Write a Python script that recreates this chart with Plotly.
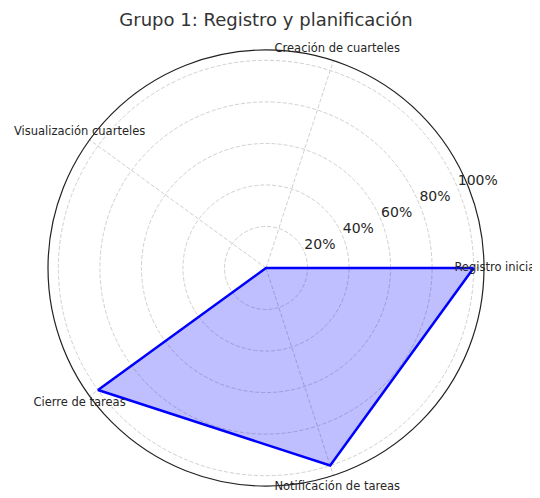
import plotly.graph_objects as go

categories = ["Registro inicial", "Creación de cuarteles", "Visualización cuarteles",
              "Cierre de tareas", "Notificación de tareas"]
values = [100, 0, 0, 100, 100]
angles = [0, 72, 144, 216, 288]
radial_ticks = [20, 40, 60, 80, 100]
radial_labels = ["20%", "40%", "60%", "80%", "100%"]

theta_closed = angles + [angles[0] + 360]
r_closed = values + [values[0]]

R_MAX = 105          # radial range of the chart
LABEL_R = 111        # radius (data units) where category labels are centred
RLABEL_ANGLE = 22.5  # angle of the radial tick labels

W, H = 540, 498
CX, CY = 258, 260    # polar centre in paper pixels
R1 = 218             # chart radius in pixels
R2 = 237             # radius of the helper label layer in pixels

fig = go.Figure()
fig.add_trace(go.Scatterpolar(
    r=r_closed, theta=theta_closed, mode="lines",
    line=dict(color="#0000ff", width=2.5),
    fill="toself", fillcolor="rgba(0,0,255,0.25)",
    showlegend=False, hoverinfo="skip",
))
# radial tick labels
fig.add_trace(go.Scatterpolar(
    r=radial_ticks, theta=[RLABEL_ANGLE] * len(radial_ticks), mode="text",
    text=radial_labels, textposition="top right",
    textfont=dict(size=14, color="#262626", family="DejaVu Sans"),
    cliponaxis=False, showlegend=False, hoverinfo="skip",
))
# angular category labels, on a transparent polar layer with the same scale
fig.add_trace(go.Scatterpolar(
    r=[LABEL_R] * len(categories), theta=angles, mode="text",
    text=categories, textposition="middle center",
    textfont=dict(size=11.5, color="#262626", family="DejaVu Sans"),
    cliponaxis=False, showlegend=False, hoverinfo="skip", subplot="polar2",
))

hidden_axes = dict(
    radialaxis=dict(range=[0, R_MAX * R2 / R1], visible=False),
    angularaxis=dict(rotation=0, direction="counterclockwise", thetaunit="degrees",
                     visible=False),
)

fig.update_layout(
    width=W, height=H,
    margin=dict(l=0, r=0, t=0, b=0),
    paper_bgcolor="white",
    font=dict(family="DejaVu Sans", color="#262626"),
    title=dict(text="Grupo 1: Registro y planificación", x=CX / W, xanchor="center",
               y=1 - 12 / H, yanchor="middle", font=dict(size=18, color="#333333")),
    polar=dict(
        domain=dict(x=[(CX - R1) / W, (CX + R1) / W],
                    y=[1 - (CY + R1) / H, 1 - (CY - R1) / H]),
        bgcolor="white",
        radialaxis=dict(
            range=[0, R_MAX], tickvals=radial_ticks, showticklabels=False,
            showline=False, ticks="",
            gridcolor="#d0d0d0", griddash="4px,2px", gridwidth=0.8,
        ),
        angularaxis=dict(
            rotation=0, direction="counterclockwise", thetaunit="degrees",
            tickmode="array", tickvals=angles, showticklabels=False,
            showline=True, linecolor="#222222", linewidth=1.2, ticks="",
            gridcolor="#d0d0d0", griddash="4px,2px", gridwidth=0.8,
        ),
    ),
    polar2=dict(
        domain=dict(x=[(CX - R2) / W, (CX + R2) / W],
                    y=[1 - (CY + R2) / H, 1 - (CY - R2) / H]),
        bgcolor="rgba(0,0,0,0)",
        **hidden_axes,
    ),
)

fig.write_html("out.html")
